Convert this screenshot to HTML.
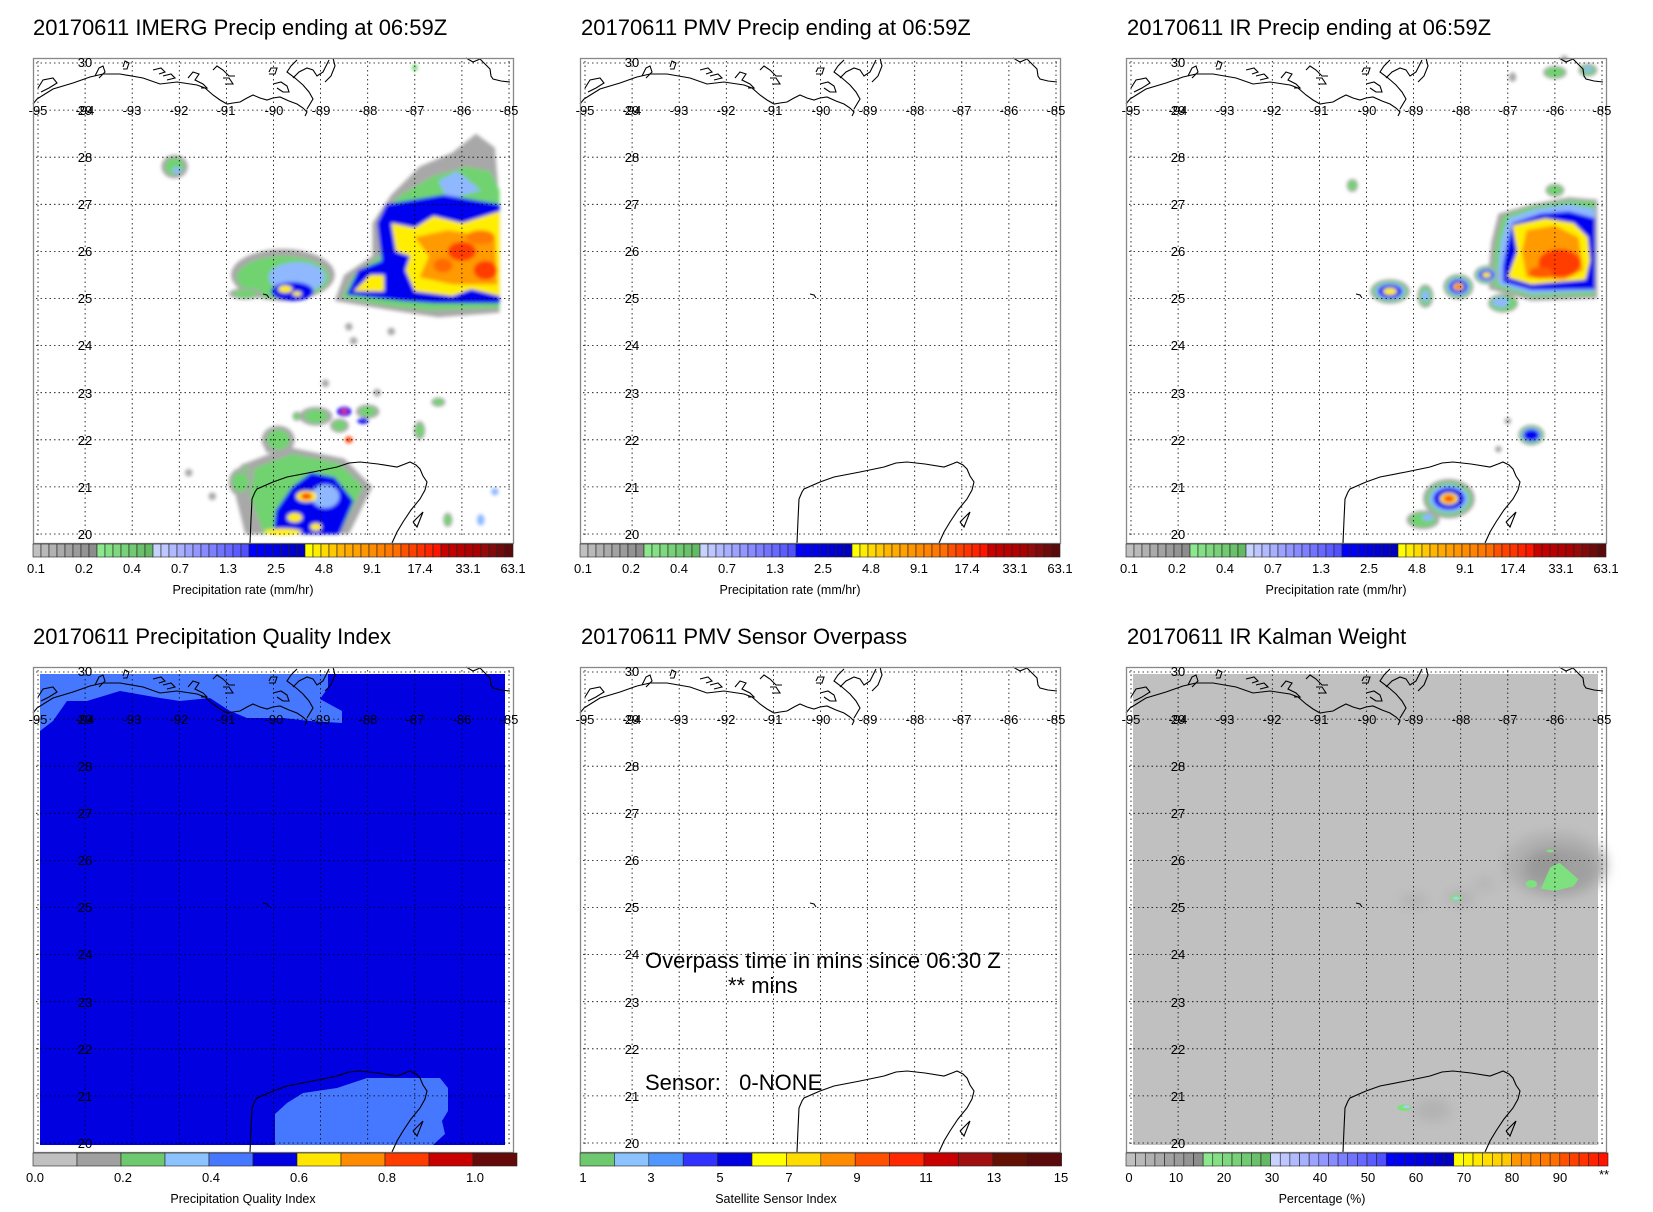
<!DOCTYPE html>
<html><head><meta charset="utf-8"><style>
html,body{margin:0;padding:0;background:#fff}
svg{display:block}
text{font-family:"Liberation Sans",sans-serif;fill:#000}
.t{font-size:22px}
.tk{font-size:13px;text-anchor:middle}
.cl{font-size:13px;text-anchor:middle}
.ax{font-size:12.5px;text-anchor:middle}
</style></head><body>
<svg id="s" width="1653" height="1212" viewBox="0 0 1653 1212" xmlns="http://www.w3.org/2000/svg">
<defs>
<filter id="bl" x="-5%" y="-5%" width="110%" height="110%"><feGaussianBlur stdDeviation="1.8"/></filter>
<filter id="bl2" x="-20%" y="-20%" width="140%" height="140%"><feGaussianBlur stdDeviation="6"/></filter>
<g id="frame">
 <g id="grid" stroke="#000" stroke-width="0.8" stroke-dasharray="1.5,3" fill="none"></g>
 <g id="coast" stroke="#000" stroke-width="1.1" fill="none"></g>
 <rect x="0.5" y="0.5" width="480" height="485" fill="none" stroke="#888" stroke-width="1.3"/>
</g>
</defs>
<rect width="1653" height="1212" fill="#fff"/>

<text class="t" x="33" y="35">20170611 IMERG Precip ending at 06:59Z</text>
<text class="t" x="581" y="35">20170611 PMV Precip ending at 06:59Z</text>
<text class="t" x="1127" y="35">20170611 IR Precip ending at 06:59Z</text>
<text class="t" x="33" y="644">20170611 Precipitation Quality Index</text>
<text class="t" x="581" y="644">20170611 PMV Sensor Overpass</text>
<text class="t" x="1127" y="644">20170611 IR Kalman Weight</text>

<g id="p1" transform="translate(33,58)"><g id="d1" filter="url(#bl)"></g><use href="#frame"/><g id="cb1"></g>
<text class="tk" x="5" y="57">-95</text><text class="tk" x="52" y="57">-94</text><text class="tk" x="99" y="57">-93</text><text class="tk" x="146" y="57">-92</text><text class="tk" x="193" y="57">-91</text><text class="tk" x="241" y="57">-90</text><text class="tk" x="288" y="57">-89</text><text class="tk" x="335" y="57">-88</text><text class="tk" x="382" y="57">-87</text><text class="tk" x="429" y="57">-86</text><text class="tk" x="476" y="57">-85</text>
<text class="tk" x="52" y="9">30</text><text class="tk" x="52" y="57">29</text><text class="tk" x="52" y="104">28</text><text class="tk" x="52" y="151">27</text><text class="tk" x="52" y="198">26</text><text class="tk" x="52" y="245">25</text><text class="tk" x="52" y="292">24</text><text class="tk" x="52" y="340">23</text><text class="tk" x="52" y="387">22</text><text class="tk" x="52" y="434">21</text><text class="tk" x="52" y="481">20</text>
<text class="cl" x="3" y="515">0.1</text><text class="cl" x="51" y="515">0.2</text><text class="cl" x="99" y="515">0.4</text><text class="cl" x="147" y="515">0.7</text><text class="cl" x="195" y="515">1.3</text><text class="cl" x="243" y="515">2.5</text><text class="cl" x="291" y="515">4.8</text><text class="cl" x="339" y="515">9.1</text><text class="cl" x="387" y="515">17.4</text><text class="cl" x="435" y="515">33.1</text><text class="cl" x="480" y="515">63.1</text>
<text class="ax" x="210" y="536">Precipitation rate (mm/hr)</text>
</g>

<g id="p2" transform="translate(580,58)"><use href="#frame"/><g id="cb2"></g>
<text class="tk" x="5" y="57">-95</text><text class="tk" x="52" y="57">-94</text><text class="tk" x="99" y="57">-93</text><text class="tk" x="146" y="57">-92</text><text class="tk" x="193" y="57">-91</text><text class="tk" x="241" y="57">-90</text><text class="tk" x="288" y="57">-89</text><text class="tk" x="335" y="57">-88</text><text class="tk" x="382" y="57">-87</text><text class="tk" x="429" y="57">-86</text><text class="tk" x="476" y="57">-85</text>
<text class="tk" x="52" y="9">30</text><text class="tk" x="52" y="57">29</text><text class="tk" x="52" y="104">28</text><text class="tk" x="52" y="151">27</text><text class="tk" x="52" y="198">26</text><text class="tk" x="52" y="245">25</text><text class="tk" x="52" y="292">24</text><text class="tk" x="52" y="340">23</text><text class="tk" x="52" y="387">22</text><text class="tk" x="52" y="434">21</text><text class="tk" x="52" y="481">20</text>
<text class="cl" x="3" y="515">0.1</text><text class="cl" x="51" y="515">0.2</text><text class="cl" x="99" y="515">0.4</text><text class="cl" x="147" y="515">0.7</text><text class="cl" x="195" y="515">1.3</text><text class="cl" x="243" y="515">2.5</text><text class="cl" x="291" y="515">4.8</text><text class="cl" x="339" y="515">9.1</text><text class="cl" x="387" y="515">17.4</text><text class="cl" x="435" y="515">33.1</text><text class="cl" x="480" y="515">63.1</text>
<text class="ax" x="210" y="536">Precipitation rate (mm/hr)</text>
</g>

<g id="p3" transform="translate(1126,58)"><g id="d3" filter="url(#bl)"></g><use href="#frame"/><g id="cb3"></g>
<text class="tk" x="5" y="57">-95</text><text class="tk" x="52" y="57">-94</text><text class="tk" x="99" y="57">-93</text><text class="tk" x="146" y="57">-92</text><text class="tk" x="193" y="57">-91</text><text class="tk" x="241" y="57">-90</text><text class="tk" x="288" y="57">-89</text><text class="tk" x="335" y="57">-88</text><text class="tk" x="382" y="57">-87</text><text class="tk" x="429" y="57">-86</text><text class="tk" x="476" y="57">-85</text>
<text class="tk" x="52" y="9">30</text><text class="tk" x="52" y="57">29</text><text class="tk" x="52" y="104">28</text><text class="tk" x="52" y="151">27</text><text class="tk" x="52" y="198">26</text><text class="tk" x="52" y="245">25</text><text class="tk" x="52" y="292">24</text><text class="tk" x="52" y="340">23</text><text class="tk" x="52" y="387">22</text><text class="tk" x="52" y="434">21</text><text class="tk" x="52" y="481">20</text>
<text class="cl" x="3" y="515">0.1</text><text class="cl" x="51" y="515">0.2</text><text class="cl" x="99" y="515">0.4</text><text class="cl" x="147" y="515">0.7</text><text class="cl" x="195" y="515">1.3</text><text class="cl" x="243" y="515">2.5</text><text class="cl" x="291" y="515">4.8</text><text class="cl" x="339" y="515">9.1</text><text class="cl" x="387" y="515">17.4</text><text class="cl" x="435" y="515">33.1</text><text class="cl" x="480" y="515">63.1</text>
<text class="ax" x="210" y="536">Precipitation rate (mm/hr)</text>
</g>

<g id="p4" transform="translate(33,667)">
<rect x="7" y="7" width="465" height="471" fill="#0000e1"/>
<polygon fill="#4677ff" points="7,7 295,7 295,21 287,32 309,44 309,56 277,54 250,51 214,51 197,44 177,31 147,34 127,31 87,24 54,34 34,34 20,54 7,64"/>
<polygon fill="#4677ff" points="242,478 242,447 254,436 270,426 304,421 334,411 407,411 415,421 415,444 409,454 412,467 400,478"/>
<use href="#frame"/><g id="cb4"></g>
<text class="tk" x="5" y="57">-95</text><text class="tk" x="52" y="57">-94</text><text class="tk" x="99" y="57">-93</text><text class="tk" x="146" y="57">-92</text><text class="tk" x="193" y="57">-91</text><text class="tk" x="241" y="57">-90</text><text class="tk" x="288" y="57">-89</text><text class="tk" x="335" y="57">-88</text><text class="tk" x="382" y="57">-87</text><text class="tk" x="429" y="57">-86</text><text class="tk" x="476" y="57">-85</text>
<text class="tk" x="52" y="9">30</text><text class="tk" x="52" y="57">29</text><text class="tk" x="52" y="104">28</text><text class="tk" x="52" y="151">27</text><text class="tk" x="52" y="198">26</text><text class="tk" x="52" y="245">25</text><text class="tk" x="52" y="292">24</text><text class="tk" x="52" y="340">23</text><text class="tk" x="52" y="387">22</text><text class="tk" x="52" y="434">21</text><text class="tk" x="52" y="481">20</text>
<text class="cl" x="2" y="515">0.0</text><text class="cl" x="90" y="515">0.2</text><text class="cl" x="178" y="515">0.4</text><text class="cl" x="266" y="515">0.6</text><text class="cl" x="354" y="515">0.8</text><text class="cl" x="442" y="515">1.0</text>
<text class="ax" x="210" y="536">Precipitation Quality Index</text>
</g>

<g id="p5" transform="translate(580,667)"><use href="#frame"/><g id="cb5"></g>
<text class="tk" x="5" y="57">-95</text><text class="tk" x="52" y="57">-94</text><text class="tk" x="99" y="57">-93</text><text class="tk" x="146" y="57">-92</text><text class="tk" x="193" y="57">-91</text><text class="tk" x="241" y="57">-90</text><text class="tk" x="288" y="57">-89</text><text class="tk" x="335" y="57">-88</text><text class="tk" x="382" y="57">-87</text><text class="tk" x="429" y="57">-86</text><text class="tk" x="476" y="57">-85</text>
<text class="tk" x="52" y="9">30</text><text class="tk" x="52" y="57">29</text><text class="tk" x="52" y="104">28</text><text class="tk" x="52" y="151">27</text><text class="tk" x="52" y="198">26</text><text class="tk" x="52" y="245">25</text><text class="tk" x="52" y="292">24</text><text class="tk" x="52" y="340">23</text><text class="tk" x="52" y="387">22</text><text class="tk" x="52" y="434">21</text><text class="tk" x="52" y="481">20</text>
<text x="65" y="301" style="font-size:22px">Overpass time in mins since 06:30 Z</text>
<text x="148" y="326" style="font-size:22px">** mins</text>
<text x="65" y="423" style="font-size:22px">Sensor:&#160;&#160; 0-NONE</text>
<text class="cl" x="3" y="515">1</text><text class="cl" x="71" y="515">3</text><text class="cl" x="140" y="515">5</text><text class="cl" x="209" y="515">7</text><text class="cl" x="277" y="515">9</text><text class="cl" x="346" y="515">11</text><text class="cl" x="414" y="515">13</text><text class="cl" x="481" y="515">15</text>
<text class="ax" x="196" y="536">Satellite Sensor Index</text>
</g>

<g id="p6" transform="translate(1126,667)">
<rect x="7" y="7" width="465" height="471" fill="#c0c0c0"/>
<g id="d6"></g>
<use href="#frame"/><g id="cb6"></g>
<text class="tk" x="5" y="57">-95</text><text class="tk" x="52" y="57">-94</text><text class="tk" x="99" y="57">-93</text><text class="tk" x="146" y="57">-92</text><text class="tk" x="193" y="57">-91</text><text class="tk" x="241" y="57">-90</text><text class="tk" x="288" y="57">-89</text><text class="tk" x="335" y="57">-88</text><text class="tk" x="382" y="57">-87</text><text class="tk" x="429" y="57">-86</text><text class="tk" x="476" y="57">-85</text>
<text class="tk" x="52" y="9">30</text><text class="tk" x="52" y="57">29</text><text class="tk" x="52" y="104">28</text><text class="tk" x="52" y="151">27</text><text class="tk" x="52" y="198">26</text><text class="tk" x="52" y="245">25</text><text class="tk" x="52" y="292">24</text><text class="tk" x="52" y="340">23</text><text class="tk" x="52" y="387">22</text><text class="tk" x="52" y="434">21</text><text class="tk" x="52" y="481">20</text>
<text class="cl" x="3" y="515">0</text><text class="cl" x="50" y="515">10</text><text class="cl" x="98" y="515">20</text><text class="cl" x="146" y="515">30</text><text class="cl" x="194" y="515">40</text><text class="cl" x="242" y="515">50</text><text class="cl" x="290" y="515">60</text><text class="cl" x="338" y="515">70</text><text class="cl" x="386" y="515">80</text><text class="cl" x="434" y="515">90</text><text class="cl" x="478" y="512">**</text>
<text class="ax" x="196" y="536">Percentage (%)</text>
</g>
</svg>
<script>
var NS="http://www.w3.org/2000/svg";
function X(l){return 5+(l+95)*47.1}
function Y(l){return 5+(30-l)*47.1}
function add(g,tag,at){var e=document.createElementNS(NS,tag);for(var k in at)e.setAttribute(k,at[k]);g.appendChild(e);return e}
var gr=document.getElementById('grid');
for(var i=0;i<=10;i++){var x=X(-95+i);add(gr,'line',{x1:x,y1:3,x2:x,y2:480});}
for(var j=0;j<=10;j++){var y=Y(30-j);add(gr,'line',{x1:3,y1:y,x2:478,y2:y});}
var co=document.getElementById('coast');
function pl(pts){add(co,'polyline',{points:pts})}
pl("0,46 4,41 12,36 20,31 40,25 57,19 70,16 87,16 110,20 127,26 144,24 164,27 172,30 180,37 187,42 194,46 200,45 207,44 214,40 220,37 227,40 234,42 240,40 247,39 256,43 264,46 270,50 274,54 272,58");
pl("274,51 280,41 276,34 270,27 262,20 254,14 258,8 264,2");
pl("5,30 10,22 20,20 24,25 16,30 8,34");
pl("62,18 66,10 70,8 72,14 66,20");
pl("90,9 92,3 96,5 94,11 90,11");
pl("120,12 128,10 132,14 126,16");
pl("130,18 138,16 142,20 134,22");
pl("155,20 160,14 166,16 162,22 170,26 174,30 168,30");
pl("180,12 184,8 190,12 196,18 202,18");
pl("190,20 196,20 200,26 192,26");
pl("236,14 238,10 244,10 242,16 236,16");
pl("240,26 248,24 254,28 256,34 250,34 244,30");
pl("260,20 266,14 274,10 280,12 284,18 290,14 294,6 296,2");
pl("300,0 302,8 298,18 292,24");
pl("433,0 440,4 447,1 452,6 457,11 458,18 460,21 468,23 477,24");
pl("217,485 218,462 219,441 222,434 224,431 240,424 254,419 280,414 304,409 316,405 327,404 345,406 364,409 372,406 377,404 383,407 387,411 390,418 394,424 392,432 387,441 378,452 370,464 364,474 359,485");
pl("380,464 390,454 384,469 380,464");
pl("230,236 234,237 236,240");
function cbar(id,cols,w){var g=document.getElementById(id);var x=0;for(var i=0;i<cols.length;i++){add(g,'rect',{x:x,y:486,width:w,height:13,fill:cols[i],stroke:'#222','stroke-width':0.6});x+=w;}}
function ramp(a,b,n){var r=[];for(var i=0;i<n;i++){var t=n==1?0:i/(n-1);var c=[0,1,2].map(function(k){return Math.round(a[k]+(b[k]-a[k])*t)});r.push('rgb('+c.join(',')+')');}return r}
var c1=[].concat(ramp([192,192,192],[140,140,140],8),ramp([140,232,140],[100,185,100],7),ramp([200,210,255],[80,80,255],12),ramp([0,0,255],[0,0,190],7),ramp([255,255,0],[255,200,0],4),ramp([255,180,0],[255,110,0],8),ramp([255,80,0],[255,20,0],5),ramp([200,0,0],[170,0,0],5),ramp([150,10,10],[90,10,10],4));
cbar('cb1',c1,8);cbar('cb2',c1,8);cbar('cb3',c1,8);
cbar('cb4',['#c0c0c0','#a0a0a0','#6ec86e','#8cc3ff','#4677ff','#0000e1','#ffe600','#ff8c00','#ff3c00','#c80000','#640a0a'],44);
cbar('cb5',['#6ec86e','#8cc3ff','#5096ff','#3232ff','#0000e1','#ffff00','#ffdc00','#ff8c00','#ff5000','#ff2800','#c80000','#a01010','#641005','#5a0a0a'],34.4);
var c6=[].concat(ramp([192,192,192],[140,140,140],8),ramp([140,232,140],[100,185,100],7),ramp([200,210,255],[80,80,255],12),ramp([0,0,255],[0,0,190],7),ramp([255,255,0],[255,200,0],6),ramp([255,150,0],[255,110,0],5),ramp([255,80,0],[255,20,0],5));
cbar('cb6',c6,9.64);
function P(g,pts,c){add(g,'polygon',{points:pts.map(function(p){return X(p[0]).toFixed(1)+','+Y(p[1]).toFixed(1)}).join(' '),fill:c})}
function E(g,lo,la,rx,ry,c){add(g,'ellipse',{cx:X(lo),cy:Y(la),rx:rx*47.1,ry:ry*47.1,fill:c})}
var G='#a8a8a8',GR='#6fd36f',LB='#8fb8ff',BL='#0000f0',YE='#ffee00',OR='#ff9a00',RD='#ff3c00';
var d1=document.getElementById('d1');
P(d1,[[-87.5,27.2],[-86.9,27.8],[-86.2,28.1],[-85.7,28.5],[-85.3,28.2],[-85.2,27],[-85.2,24.7],[-86.5,24.6],[-87.5,24.75],[-88.7,24.95],[-88.5,25.5],[-87.9,25.9],[-87.9,26.6]],G);
P(d1,[[-87.3,27.2],[-86.6,27.6],[-85.9,27.8],[-85.4,27.7],[-85.2,27.3],[-85.2,24.8],[-86.7,24.75],[-87.6,24.85],[-88.55,25.02],[-88.3,25.5],[-87.75,25.9],[-87.7,26.8]],GR);
P(d1,[[-86.5,27.5],[-86.1,27.7],[-85.6,27.3],[-86.3,27.1]],LB);
P(d1,[[-87.6,27.0],[-86.4,27.2],[-85.2,27.0],[-85.2,24.9],[-86.6,24.9],[-87.3,24.95],[-88.45,25.08],[-88.2,25.6],[-87.7,25.8],[-87.8,26.6]],BL);
P(d1,[[-87.5,26.6],[-87.0,26.5],[-86.6,26.75],[-86.0,26.6],[-85.2,26.85],[-85.2,25.05],[-85.8,25.2],[-86.2,25.05],[-87.0,25.15],[-87.2,25.6],[-87.1,25.9],[-87.4,26.0]],YE);
P(d1,[[-88.3,25.15],[-87.95,25.5],[-87.65,25.5],[-87.65,25.15]],YE);
P(d1,[[-87.0,26.3],[-86.3,26.45],[-85.3,26.3],[-85.25,25.3],[-86.2,25.3],[-86.9,25.45],[-86.7,25.9]],OR);
E(d1,-86.0,26.0,0.3,0.2,RD);E(d1,-85.5,25.6,0.25,0.2,RD);E(d1,-86.4,25.7,0.2,0.15,'#ff6a00');E(d1,-85.6,26.3,0.3,0.15,'#ff7a00');
E(d1,-89.8,25.5,1.1,0.55,G);E(d1,-89.8,25.45,0.98,0.45,GR);E(d1,-89.5,25.45,0.6,0.32,LB);E(d1,-89.6,25.15,0.45,0.2,BL);E(d1,-89.75,25.2,0.15,0.08,YE);E(d1,-89.5,25.1,0.1,0.05,YE);
E(d1,-90.6,25.1,0.35,0.12,G);E(d1,-90.6,25.1,0.25,0.08,GR);
E(d1,-92.1,27.8,0.28,0.25,G);E(d1,-92.1,27.8,0.2,0.18,GR);E(d1,-92.05,27.72,0.1,0.07,LB);
P(d1,[[-90.6,21.5],[-89.7,21.85],[-88.5,21.6],[-87.9,21.0],[-88.2,20.4],[-88.4,20],[-90.6,20],[-90.8,20.8]],G);
P(d1,[[-90.4,21.4],[-89.6,21.7],[-88.6,21.5],[-88.1,21.0],[-88.4,20.4],[-88.6,20],[-90.2,20],[-90.5,20.8]],GR);
P(d1,[[-90.0,20],[-89.95,20.5],[-89.6,21.0],[-89.2,21.3],[-88.7,21.2],[-88.3,20.7],[-88.6,20]],BL);
E(d1,-88.9,20.8,0.3,0.25,LB);
E(d1,-89.3,20.8,0.22,0.12,YE);E(d1,-89.3,20.8,0.12,0.07,RD);E(d1,-89.55,20.35,0.16,0.1,YE);E(d1,-89.8,20.05,0.4,0.07,YE);E(d1,-89.1,20.15,0.12,0.08,YE);
[[-89.9,22.0,0.35,0.3],[-88.0,22.6,0.25,0.15],[-90.6,21.3,0.15,0.2],[-89.1,22.5,0.35,0.2],[-86.9,22.2,0.12,0.2],[-86.5,22.8,0.15,0.1],[-90.7,21.1,0.25,0.3],[-86.3,20.3,0.1,0.15],[-88.6,22.3,0.2,0.15],[-89.5,22.5,0.1,0.1]].forEach(function(a){E(d1,a[0],a[1],a[2],a[3],G);E(d1,a[0],a[1],a[2]*0.7,a[3]*0.7,GR);});
E(d1,-88.5,22.6,0.15,0.1,BL);E(d1,-88.5,22.6,0.06,0.05,RD);E(d1,-88.4,22.0,0.08,0.07,RD);E(d1,-88.1,22.4,0.12,0.06,BL);
E(d1,-85.3,20.9,0.08,0.08,LB);E(d1,-85.6,20.3,0.08,0.12,LB);E(d1,-87.0,29.9,0.06,0.07,GR);
[[-87.8,23.0],[-90.1,21.8],[-91.8,21.3],[-88.9,23.2],[-87.5,24.3],[-88.3,24.1],[-88.4,24.4],[-91.3,20.8]].forEach(function(a){E(d1,a[0],a[1],0.08,0.08,G)});
var d3=document.getElementById('d3');
P(d3,[[-87.35,26.2],[-87.2,26.8],[-86.5,27.0],[-85.7,27.15],[-85.1,27.1],[-85.1,25.0],[-86.5,24.95],[-87.4,25.2],[-87.4,25.7]],G);
P(d3,[[-87.25,26.2],[-87.1,26.75],[-86.5,26.95],[-85.7,27.08],[-85.15,27.05],[-85.15,25.07],[-86.5,25.03],[-87.3,25.25],[-87.3,25.7]],GR);
P(d3,[[-87.15,26.2],[-87.0,26.7],[-86.4,26.9],[-85.7,27.0],[-85.15,26.9],[-85.15,25.15],[-86.5,25.1],[-87.2,25.3],[-87.2,25.7]],LB);
P(d3,[[-87.0,26.2],[-86.9,26.6],[-86.3,26.8],[-85.7,26.85],[-85.15,26.7],[-85.15,25.2],[-86.5,25.18],[-87.1,25.35],[-87.1,25.7]],BL);
P(d3,[[-86.9,26.55],[-86.2,26.7],[-85.6,26.6],[-85.3,26.3],[-85.25,25.8],[-85.35,25.4],[-86.5,25.3],[-87.0,25.45],[-86.8,26.0]],YE);
P(d3,[[-86.6,26.45],[-86.0,26.55],[-85.5,26.3],[-85.4,25.6],[-85.8,25.4],[-86.6,25.45],[-86.7,26.0]],OR);
E(d3,-85.9,25.75,0.45,0.3,RD);E(d3,-86.3,25.55,0.25,0.12,'#ff5a00');
function bl3(lo,la,rx,ry,core){E(d3,lo,la,rx,ry,G);E(d3,lo,la,rx*0.88,ry*0.85,GR);E(d3,lo,la,rx*0.75,ry*0.7,LB);E(d3,lo,la,rx*0.6,ry*0.55,BL);if(core){E(d3,lo,la,rx*0.35,ry*0.3,YE);if(core>1){E(d3,lo,la,rx*0.25,ry*0.22,OR);E(d3,lo,la,rx*0.15,ry*0.13,RD);}}}
bl3(-89.5,25.15,0.42,0.26,1);bl3(-88.05,25.25,0.32,0.27,2);bl3(-87.45,25.5,0.27,0.2,1);
E(d3,-88.75,25.05,0.17,0.25,G);E(d3,-88.75,25.05,0.13,0.2,GR);E(d3,-88.75,25.05,0.08,0.12,LB);
E(d3,-87.1,24.9,0.32,0.2,G);E(d3,-87.1,24.9,0.28,0.16,GR);E(d3,-87.15,24.92,0.18,0.1,LB);
E(d3,-86.0,27.3,0.2,0.14,G);E(d3,-86.0,27.3,0.16,0.1,GR);
E(d3,-90.3,27.4,0.12,0.14,G);E(d3,-90.3,27.4,0.09,0.1,GR);
E(d3,-86.0,29.8,0.25,0.14,G);E(d3,-86.0,29.8,0.2,0.1,GR);E(d3,-85.3,29.85,0.2,0.14,G);E(d3,-85.3,29.85,0.15,0.1,GR);E(d3,-85.3,29.87,0.08,0.06,LB);
E(d3,-86.9,29.7,0.08,0.1,G);E(d3,-85.8,30.1,0.08,0.06,G);
bl3(-86.5,22.1,0.28,0.22,0);
E(d3,-87.0,22.4,0.07,0.07,G);E(d3,-87.2,21.8,0.07,0.07,G);
bl3(-88.25,20.75,0.55,0.42,2);
E(d3,-88.8,20.3,0.35,0.2,G);E(d3,-88.8,20.3,0.28,0.15,GR);E(d3,-88.7,20.35,0.12,0.07,LB);
var d6=document.getElementById('d6');
var g6=add(d6,'g',{filter:'url(#bl2)'});
function E6(lo,la,rx,ry,c){add(g6,'ellipse',{cx:X(lo),cy:Y(la),rx:rx*47.1,ry:ry*47.1,fill:c})}
E6(-86.0,25.9,1.1,0.7,'#b0b0b0');E6(-85.9,25.8,0.8,0.5,'#a0a0a0');E6(-86.2,25.9,0.4,0.3,'#989898');
E6(-89.0,25.15,0.3,0.12,'#b0b0b0');E6(-88.0,25.2,0.3,0.15,'#b0b0b0');E6(-87.5,25.5,0.2,0.15,'#b4b4b4');E6(-88.6,20.7,0.4,0.25,'#b2b2b2');
P(d6,[[-86.3,25.4],[-86.1,25.85],[-85.9,25.95],[-85.5,25.6],[-85.6,25.45],[-86.0,25.35]],'#7ee07e');
E(d6,-86.5,25.5,0.12,0.08,'#7ee07e');E(d6,-86.1,26.2,0.08,0.03,'#7ee07e');
E(d6,-88.1,25.2,0.12,0.07,'#7ee07e');E(d6,-88.1,25.2,0.07,0.03,'#b4c8ff');
E(d6,-89.2,20.75,0.15,0.07,'#7ee07e');E(d6,-89.15,20.77,0.07,0.03,'#b4c8ff');
</script>
</body></html>
